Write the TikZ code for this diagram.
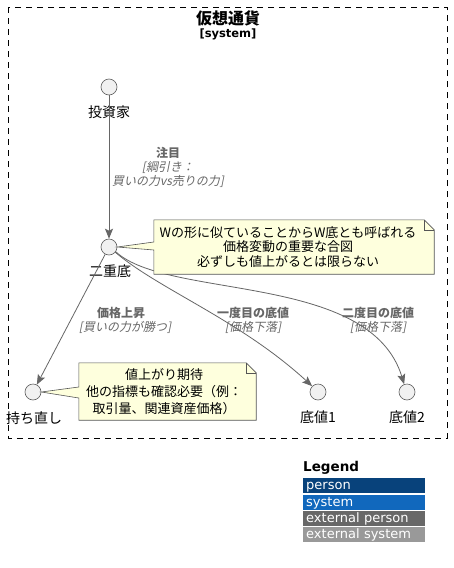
\documentclass[tikz,border=0pt]{standalone}
\usepackage{fontspec}
\setmainfont{Noto Sans CJK JP}
\newfontfamily\cjkit{Noto Sans CJK JP}[FakeSlant=0.2]
\newfontfamily\dejavu{DejaVu Sans}
\usetikzlibrary{arrows.meta}
\definecolor{lbl}{HTML}{666666}
\definecolor{edgec}{HTML}{666666}
\definecolor{actfill}{HTML}{F1F1F1}
\definecolor{actdraw}{HTML}{5E5E5E}
\definecolor{notefill}{HTML}{FEFFDD}
\definecolor{notedraw}{HTML}{555555}
\definecolor{lperson}{HTML}{08427B}
\definecolor{lsystem}{HTML}{1168BD}
\definecolor{lextperson}{HTML}{686868}
\definecolor{lextsystem}{HTML}{999999}
\begin{document}
\begin{tikzpicture}[x=1pt,y=-1pt,
  actor/.style={circle, draw=actdraw, fill=actfill, line width=0.6pt, minimum size=16pt, inner sep=0pt},
  nlabel/.style={font=\fontsize{14}{16}\selectfont, inner sep=0pt},
  elab/.style={font=\bfseries\fontsize{12}{14}\selectfont, text=lbl, inner sep=0pt},
  eital/.style={font=\cjkit\fontsize{12}{14}\selectfont, text=lbl, inner sep=0pt, align=center},
  conn/.style={draw=edgec, line width=0.8pt, -{Stealth[length=10pt,width=8pt,inset=2pt]}},
  notebox/.style={draw=none, inner sep=0pt},
  noteline/.style={draw=notedraw, fill=notefill, line width=0.6pt, line join=miter},
  notetext/.style={font=\fontsize{13}{14.5}\selectfont, align=center, inner sep=0pt},
  legbox/.style={anchor=north west, minimum width=122pt, minimum height=15.5pt, inner sep=0pt, text=white, font=\dejavu\fontsize{13}{14}\selectfont, text width=116pt, align=left, text depth=2.5pt, text height=10pt}
]
\useasboundingbox (0,0) rectangle (454,568);
\fill[white] (0,0) rectangle (454,568);

% system boundary
\draw[black, line width=0.8pt, dash pattern=on 6pt off 5pt] (8,7) rectangle (447,438);
\node[font=\bfseries\fontsize{16}{18}\selectfont, inner sep=0pt] (title) at (228,18) {仮想通貨};
\node[font=\dejavu\bfseries\fontsize{11.5}{13}\selectfont, inner sep=0pt] (stype) at (228,34) {[system]};

% actors
\node[actor] (inv) at (109,87) {};
\node[nlabel] (invl) at (109,112) {投資家};
\node[actor] (dd) at (109,247) {};
\node[nlabel] (ddl) at (110,271) {二重底};
\node[actor] (md) at (33,392) {};
\node[nlabel] (mdl) at (34,418) {持ち直し};
\node[actor] (b1) at (318,392) {};
\node[nlabel] (b1l) at (318,417) {底値1};
\node[actor] (b2) at (407,392) {};
\node[nlabel] (b2l) at (407,417) {底値2};

% connectors
\draw[conn] (inv) -- (dd);
\draw[conn] (dd) -- (md);
\draw[conn] (dd.-40) .. controls (160,290) and (240,320) .. (b1.135);
\draw[conn] (dd.-35) .. controls (168,300) and (370,272) .. (b2.110);

% connector labels
\node[elab] (l1a) at (168,153) {注目};
\node[eital] (l1b) at (168,167) {[綱引き：};
\node[eital] (l1c) at (168,181) {買いの力vs売りの力]};
\node[elab] (l2a) at (121,313) {価格上昇};
\node[eital] (l2b) at (125,327) {[買いの力が勝つ]};
\node[elab] (l3a) at (253,313) {一度目の底値};
\node[eital] (l3b) at (253,327) {[価格下落]};
\node[elab] (l4a) at (378,313) {二度目の底値};
\node[eital] (l4b) at (378,327) {[価格下落]};

% note 1
\node[notebox, minimum width=280pt, minimum height=54pt] (n1) at (294,247) {};
\draw[noteline] (n1.north west) -- ([xshift=-10pt]n1.north east) -- ([yshift=-10pt]n1.north east)
  -- (n1.south east) -- (n1.south west) -- ([yshift=-3pt]n1.west) -- (dd.east) -- ([yshift=5pt]n1.west) -- cycle;
\draw[draw=notedraw, line width=0.6pt] ([xshift=-10pt]n1.north east) -- ([xshift=-10pt,yshift=-10pt]n1.north east) -- ([yshift=-10pt]n1.north east);
\node[notetext] (n1t) at (288,247) {Wの形に似ていることからW底とも呼ばれる\\価格変動の重要な合図\\必ずしも値上がるとは限らない};

% note 2
\node[notebox, minimum width=177pt, minimum height=57pt] (n2) at (167.5,391.5) {};
\draw[noteline] (n2.north west) -- ([xshift=-10pt]n2.north east) -- ([yshift=-10pt]n2.north east)
  -- (n2.south east) -- (n2.south west) -- ([yshift=-6.5pt]n2.west) -- (md.east) -- ([yshift=4.5pt]n2.west) -- cycle;
\draw[draw=notedraw, line width=0.6pt] ([xshift=-10pt]n2.north east) -- ([xshift=-10pt,yshift=-10pt]n2.north east) -- ([yshift=-10pt]n2.north east);
\node[notetext, font=\fontsize{13}{17}\selectfont] (n2t) at (164,392) {値上がり期待\\他の指標も確認必要（例：\\取引量、関連資産価格）};

% legend
\node[font=\dejavu\bfseries\fontsize{13.5}{15}\selectfont, anchor=west, inner sep=0pt] (leg) at (303,468) {Legend};
\node[legbox, fill=lperson] (lp) at (303,477.5) {person};
\node[legbox, fill=lsystem] (ls) at (303,494.5) {system};
\node[legbox, fill=lextperson] (lep) at (303,510.5) {external person};
\node[legbox, fill=lextsystem] (les) at (303,526.5) {external system};
\end{tikzpicture}
\end{document}
